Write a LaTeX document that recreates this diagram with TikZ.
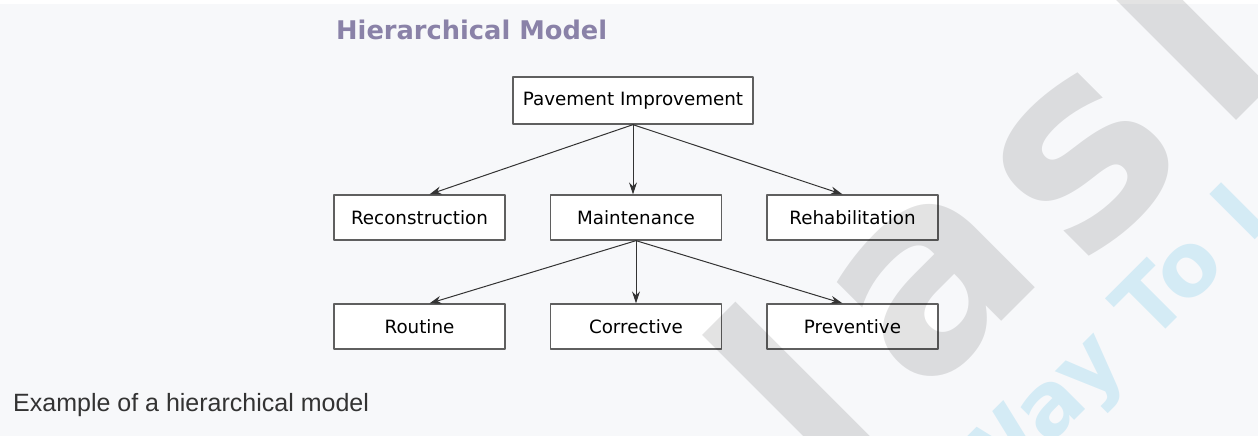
\documentclass[tikz,border=0pt]{standalone}
\usepackage{fontspec}
\usetikzlibrary{arrows.meta}
\newfontfamily\boxfont{DejaVu Sans}
\newfontfamily\capfont{Liberation Sans}
\definecolor{pagebg}{RGB}{247,248,250}
\definecolor{titlecol}{RGB}{138,130,168}
\definecolor{edgecol}{RGB}{95,95,95}
\definecolor{markcyan}{RGB}{0,160,220}

\begin{document}
\begin{tikzpicture}[x=1pt, y=-1pt, >={Stealth[length=12pt, width=8pt]}, line cap=round, line join=round]
	\tikzset{
		box_base/.style={draw=edgecol, fill=white, line width=1.3pt, inner sep=0pt, font=\boxfont\fontsize{18.3}{20}\selectfont},
		level_box/.style={box_base, minimum width=171pt, minimum height=45pt}, % hộp hàng dưới
		root_box/.style={box_base, minimum width=240pt, minimum height=47pt}, % hộp gốc
		link/.style={->, draw=black!80, line width=1pt},
		mark_gray/.style={text=black, text opacity=0.11, rotate=45, inner sep=0pt, anchor=base, font=\boxfont\bfseries\fontsize{270}{270}\selectfont},
		mark_cyan/.style={text=markcyan, text opacity=0.14, rotate=45, inner sep=0pt, anchor=base west, font=\boxfont\bfseries\fontsize{88}{90}\selectfont}
	}
	% nền trang
	\fill[white] (0,0) rectangle (1258,436);
	\fill[pagebg] (0,4) rectangle (1258,436);
	\useasboundingbox (0,0) rectangle (1258,436);

	\node[anchor=base west, inner sep=0pt, text=titlecol, font=\boxfont\bfseries\fontsize{25.7}{28}\selectfont] (title) at (336,40) {Hierarchical Model};
	\node[anchor=base west, inner sep=0pt, text=black!80, font=\capfont\fontsize{25}{28}\selectfont] (caption) at (13,411) {Example of a hierarchical model};

	\node[root_box] (pav) at (633,100.5) {Pavement Improvement};
	\foreach \nm/\xx/\txt in {recon/419.5/Reconstruction, maint/636/Maintenance, rehab/852.5/Rehabilitation}
		\node[level_box] (\nm) at (\xx,217.5) {\txt};
	\foreach \nm/\xx/\txt in {routine/419.5/Routine, correct/636/Corrective, prevent/852.5/Preventive}
		\node[level_box] (\nm) at (\xx,326.5) {\txt};

	% mũi tên
	\draw[link] (pav.south) -- (pav.south |- maint.north);
	\draw[link] (maint.south) -- (maint.south |- correct.north);
	\foreach \src/\dst/\dx in {pav/recon/10, pav/rehab/-10, maint/routine/10, maint/prevent/-10}
		\draw[link] (\src.south) -- ([xshift=\dx pt]\dst.north);

	% chữ chìm
	\begin{scope}
		\clip (0,0) rectangle (1258,436);
		\foreach \ch/\px/\py [count=\i] in {l/864/464, a/986/337, s/1138/215, l/1253/104}
			\node[mark_gray] (wm\i) at (\px,\py) {\ch};
		\node[mark_cyan] (wmtext) at (982,513) {Way To I};
	\end{scope}
\end{tikzpicture}
\end{document}
